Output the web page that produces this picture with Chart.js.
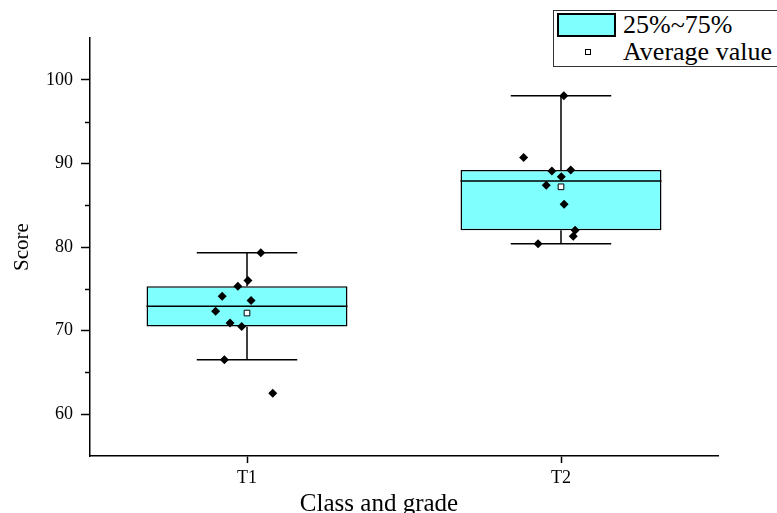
<!DOCTYPE html>
<html>
<head>
<meta charset="utf-8">
<script src="https://cdn.jsdelivr.net/npm/chart.js@4.4.0/dist/chart.umd.min.js"></script>
<style>
  html, body { margin: 0; padding: 0; background: #fff; }
  #wrap { position: relative; width: 777px; height: 513px; overflow: hidden; }
  #legend {
    position: absolute; left: 553px; top: 10px; width: 260px; height: 55px;
    border: 1px solid #333; background: #fff;
    font-family: 'Liberation Serif', serif; font-size: 26px; color: #000;
  }
  #legend .sw { position: absolute; left: 3px; top: 2px; width: 55px; height: 20px; background: #80ffff; border: 2px solid #000; }
  #legend .mk { position: absolute; left: 31px; top: 38px; width: 4px; height: 4px; background: #fff; border: 1px solid #000; }
  #legend .t { position: absolute; left: 69px; line-height: 28px; white-space: nowrap; }
</style>
</head>
<body>
<div id="wrap">
  <canvas id="chart" width="777" height="513"></canvas>
  <div id="legend">
    <div class="sw"></div><div class="t" style="top:0px">25%~75%</div>
    <div class="mk"></div><div class="t" style="top:27px">Average value</div>
  </div>
</div>
<script>
// data
const categories = ['T1', 'T2'];
const t1Scores = [79.3, 76.0, 75.3, 74.1, 73.6, 72.3, 70.9, 70.5, 66.5, 62.5];
const t1Jitter = [0.044, 0.003, -0.029, -0.079, 0.013, -0.1, -0.054, -0.017, -0.072, 0.082];
const t2Scores = [98.1, 90.7, 89.1, 89.2, 88.4, 87.4, 85.1, 82.0, 81.3, 80.4];
const t2Jitter = [0.009, -0.119, -0.029, 0.031, 0.001, -0.047, 0.01, 0.045, 0.039, -0.073];
const q1 = [70.5, 82.0];
const medians = [72.9, 87.9];
const q3 = [75.3, 89.2];
const whiskerLow = [66.5, 80.4];
const whiskerHigh = [79.3, 98.1];
const means = [72.1, 87.2];
const yTicks = [60, 70, 80, 90, 100];
const yMinorTicks = [65, 75, 85, 95];

const BOX_HALF = 0.32;   // half box width, in category units
const CAP_HALF = 0.16;   // half whisker cap width

Chart.defaults.font.family = "'Liberation Serif', serif";
Chart.defaults.color = '#000';

// whiskers and caps, split with null points
const whiskerPts = [];
const medianPts = [];
categories.forEach((c, i) => {
  whiskerPts.push(
    { x: i, y: whiskerLow[i] }, { x: i, y: q1[i] }, { x: i, y: null },
    { x: i, y: q3[i] }, { x: i, y: whiskerHigh[i] }, { x: i, y: null },
    { x: i - CAP_HALF, y: whiskerHigh[i] }, { x: i + CAP_HALF, y: whiskerHigh[i] }, { x: i, y: null },
    { x: i - CAP_HALF, y: whiskerLow[i] }, { x: i + CAP_HALF, y: whiskerLow[i] }, { x: i, y: null }
  );
  medianPts.push({ x: i - BOX_HALF, y: medians[i] }, { x: i + BOX_HALF, y: medians[i] }, { x: i, y: null });
});

const scorePts = [
  ...t1Scores.map((v, k) => ({ x: 0 + t1Jitter[k], y: v })),
  ...t2Scores.map((v, k) => ({ x: 1 + t2Jitter[k], y: v }))
];
const meanPts = means.map((v, i) => ({ x: i, y: v }));

// short minor ticks on the y axis, and the x title (sits a bit left of centre)
const extras = {
  id: 'extras',
  afterDraw(chart) {
    const { ctx, chartArea, scales } = chart;
    ctx.save();
    ctx.strokeStyle = '#000';
    ctx.lineWidth = 1.5;
    yMinorTicks.forEach(v => {
      const y = Math.round(scales.y.getPixelForValue(v)) + 0.5;
      ctx.beginPath();
      ctx.moveTo(chartArea.left - 5, y);
      ctx.lineTo(chartArea.left, y);
      ctx.stroke();
    });
    ctx.fillStyle = '#000';
    ctx.font = "25px 'Liberation Serif', serif";
    ctx.textAlign = 'center';
    ctx.textBaseline = 'alphabetic';
    ctx.fillText('Class and grade', (chartArea.left + chartArea.right) / 2 - 25, chart.height - 2);
    ctx.restore();
  }
};

new Chart(document.getElementById('chart'), {
  type: 'bar',
  data: {
    labels: categories,
    datasets: [
      {
        label: '25%~75%',
        data: categories.map((c, i) => [q1[i], q3[i]]),
        backgroundColor: '#80ffff',
        borderColor: '#000',
        borderWidth: 1.5,
        borderSkipped: false,
        grouped: false,
        barPercentage: BOX_HALF * 2,
        categoryPercentage: 1,
        xAxisID: 'x',
        order: 5
      },
      {
        type: 'line',
        label: 'whiskers',
        data: whiskerPts,
        xAxisID: 'xj',
        borderColor: '#000',
        borderWidth: 1.5,
        pointRadius: 0,
        spanGaps: false,
        fill: false,
        order: 6
      },
      {
        type: 'line',
        label: 'median',
        data: medianPts,
        xAxisID: 'xj',
        borderColor: '#000',
        borderWidth: 1.5,
        pointRadius: 0,
        spanGaps: false,
        fill: false,
        order: 4
      },
      {
        type: 'scatter',
        label: 'scores',
        data: scorePts,
        xAxisID: 'xj',
        pointStyle: 'rectRot',
        pointRadius: 4.5,
        backgroundColor: '#000',
        borderColor: '#000',
        borderWidth: 0,
        order: 2
      },
      {
        type: 'scatter',
        label: 'Average value',
        data: meanPts,
        xAxisID: 'xj',
        pointStyle: 'rect',
        pointRadius: 4,
        backgroundColor: '#fff',
        borderColor: '#000',
        borderWidth: 1,
        order: 1
      }
    ]
  },
  options: {
    responsive: false,
    animation: false,
    layout: { padding: { top: 38, right: 59, left: 0, bottom: 0 } },
    plugins: { legend: { display: false }, tooltip: { enabled: false } },
    scales: {
      x: {
        type: 'category',
        offset: true,
        grid: { offset: false, drawOnChartArea: false, tickLength: 7, tickColor: '#000', tickWidth: 1.5 },
        border: { color: '#000', width: 1.5 },
        ticks: { font: { size: 18 }, color: '#000', padding: 4 },
        afterFit(s) { s.height = 57; }
      },
      xj: { type: 'linear', display: false, offset: false, min: -0.5, max: 1.5 },
      y: {
        min: 55,
        max: 105,
        afterBuildTicks(s) { s.ticks = yTicks.map(v => ({ value: v })); },
        grid: { drawOnChartArea: false, tickLength: 9, tickColor: '#000', tickWidth: 1.5 },
        border: { color: '#000', width: 1.5 },
        ticks: { font: { size: 18 }, color: '#000', padding: 8 },
        title: { display: true, text: 'Score', font: { size: 21 }, color: '#000', padding: { top: 10, bottom: 0 } },
        afterFit(s) { s.width = 90; }
      }
    }
  },
  plugins: [extras]
});
</script>
</body>
</html>
